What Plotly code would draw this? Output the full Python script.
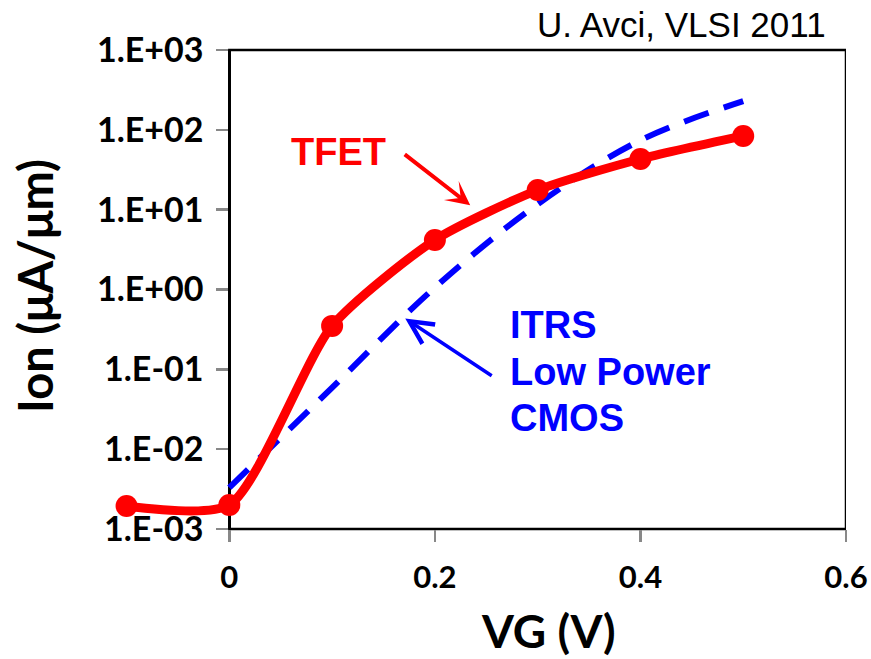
import plotly.graph_objects as go

# Data
vg_tfet = [-0.1, 0.0, 0.1, 0.2, 0.3, 0.4, 0.5]
ion_tfet = [1.94e-3, 2.0e-3, 0.35, 4.17, 17.6, 43.1, 83.8]

vg_itrs = [0.0, 0.1, 0.2, 0.3, 0.4, 0.5]
ion_itrs = [3.3e-3, 0.059, 1.06, 11.7, 74, 229]

y_tickvals = [1e-3, 1e-2, 1e-1, 1e0, 1e1, 1e2, 1e3]
y_ticktext = ["1.E-03", "1.E-02", "1.E-01", "1.E+00", "1.E+01", "1.E+02", "1.E+03"]
x_tickvals = [0, 0.2, 0.4, 0.6]
x_ticktext = ["0", "0.2", "0.4", "0.6"]

OFF = 0  # body margin removed via post_script
W, H = 871, 659
L, R, T, B = 106, 25, 50, 130
xr = [-0.12, 0.6]
pos_y_axis = (0 - xr[0]) / (xr[1] - xr[0])


def px_x(px):
    return (px - OFF - L) / (W - L - R)


def px_y(py):
    return (H - B - (py - OFF)) / (H - T - B)


def dx(px):
    return (px - 229) / 1028.3


def dy(py):
    return 3 - (py - 50) / 79.67


fig = go.Figure()
fig.add_trace(go.Scatter(
    x=vg_itrs, y=ion_itrs, mode="lines",
    line=dict(color="#0000FF", width=6, dash="26px,16px", shape="spline"),
    showlegend=False))
fig.add_trace(go.Scatter(
    x=vg_tfet, y=ion_tfet, mode="lines+markers",
    line=dict(color="#FF0000", width=9, shape="spline", smoothing=0.65),
    marker=dict(color="#FF0000", size=22),
    showlegend=False, cliponaxis=False))

ytickfont = dict(family="Lato", size=34, color="black", weight="bold")
xtickfont = dict(family="Lato", size=31, color="black", weight="bold")

fig.update_layout(
    template="none",
    width=W, height=H,
    margin=dict(l=L, r=R, t=T, b=B, autoexpand=False),
    paper_bgcolor="white", plot_bgcolor="white",
    xaxis=dict(range=xr, tickvals=x_tickvals, ticktext=x_ticktext, automargin=False,
               showgrid=False, zeroline=False, showline=False,
               ticks="outside", ticklen=12, tickwidth=2.5, tickcolor="#888888",
               tickfont=xtickfont, ticklabelstandoff=9, layer="below traces"),
    yaxis=dict(type="log", range=[-3, 3], tickvals=y_tickvals, ticktext=y_ticktext,
               anchor="free", position=pos_y_axis, automargin=False,
               showgrid=False, zeroline=False, showline=True, linecolor="black", linewidth=2.5,
               ticks="outside", ticklen=12, tickwidth=2.5, tickcolor="#888888",
               tickfont=ytickfont, ticklabelstandoff=6, layer="below traces"),
    shapes=[
        dict(type="rect", xref="x", yref="paper", x0=0, x1=0.6, y0=0, y1=1,
             line=dict(color="black", width=2.5), layer="below"),
    ],
    annotations=[
        dict(text="Ion (μA/μm)", xref="paper", yref="paper",
             x=px_x(35), y=px_y(286), xanchor="center", yanchor="middle",
             textangle=-90, showarrow=False,
             font=dict(family="Lato", size=47, color="black", weight="bold")),
        dict(text="VG (V)", xref="paper", yref="paper",
             x=px_x(548), y=px_y(630), xanchor="center", yanchor="middle",
             showarrow=False,
             font=dict(family="Lato", size=46, color="black", weight="bold")),
        dict(text="U. Avci, VLSI 2011", xref="paper", yref="paper",
             x=px_x(681), y=px_y(25), xanchor="center", yanchor="middle",
             showarrow=False,
             font=dict(family="Liberation Sans", size=35, color="black")),
        dict(text="TFET", xref="x", yref="y", x=dx(338), y=dy(152),
             xanchor="center", yanchor="middle", showarrow=False,
             font=dict(family="Liberation Sans", size=38, color="#FF0000", weight="bold")),
        dict(text="ITRS", xref="x", yref="y", x=dx(508), y=dy(324),
             xanchor="left", yanchor="middle", showarrow=False,
             font=dict(family="Liberation Sans", size=38, color="#0000FF", weight="bold")),
        dict(text="Low Power", xref="x", yref="y", x=dx(508), y=dy(371),
             xanchor="left", yanchor="middle", showarrow=False,
             font=dict(family="Liberation Sans", size=38, color="#0000FF", weight="bold")),
        dict(text="CMOS", xref="x", yref="y", x=dx(508), y=dy(417),
             xanchor="left", yanchor="middle", showarrow=False,
             font=dict(family="Liberation Sans", size=38, color="#0000FF", weight="bold")),
        # arrows
        dict(text="", xref="x", yref="y", axref="x", ayref="y",
             x=dx(470), y=dy(205), ax=dx(403), ay=dy(153),
             showarrow=True, arrowhead=3, arrowsize=1.0, arrowwidth=4, arrowcolor="#FF0000"),
        dict(text="", xref="x", yref="y", axref="x", ayref="y",
             x=dx(405), y=dy(318), ax=dx(493), ay=dy(376),
             showarrow=True, arrowhead=5, arrowsize=1.3, arrowwidth=3.5, arrowcolor="#0000FF"),
    ],
)

fig.write_html("out.html",
               config={"displayModeBar": False, "staticPlot": True},
               post_script="document.body.style.margin='0';document.body.style.overflow='hidden';")
